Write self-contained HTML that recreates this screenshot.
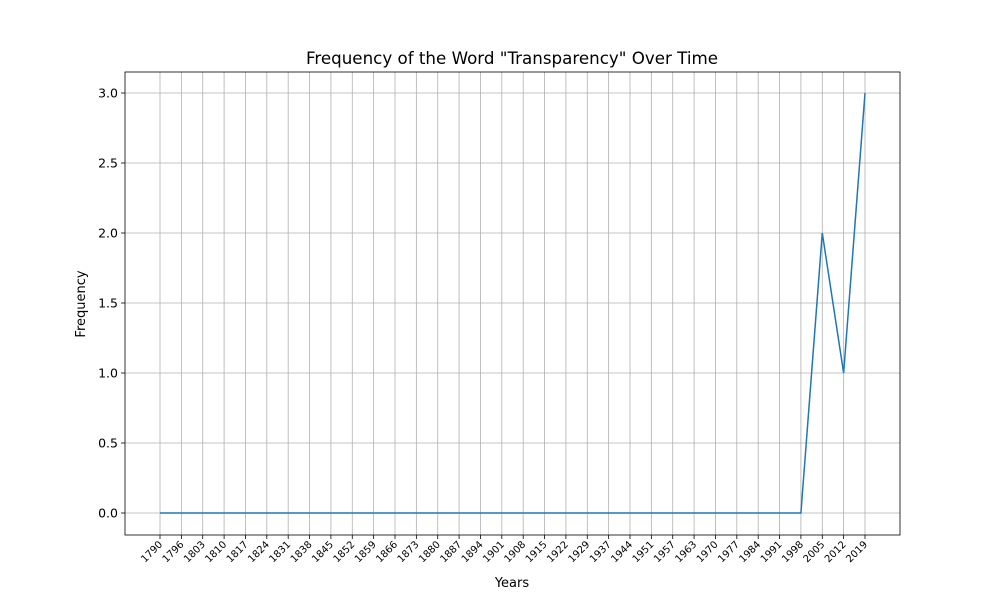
<!DOCTYPE html>
<html><head><meta charset="utf-8"><style>
body{margin:0;background:#fff;font-family:"DejaVu Sans","Liberation Sans",sans-serif;}
</style></head><body>
<svg id="chart" width="1000" height="600" xmlns="http://www.w3.org/2000/svg" font-family="DejaVu Sans, Liberation Sans, sans-serif"></svg>
<script>
const years=["1790","1796","1803","1810","1817","1824","1831","1838","1845","1852","1859","1866","1873","1880","1887","1894","1901","1908","1915","1922","1929","1937","1944","1951","1957","1963","1970","1977","1984","1991","1998","2005","2012","2019"];
const freq=[0,0,0,0,0,0,0,0,0,0,0,0,0,0,0,0,0,0,0,0,0,0,0,0,0,0,0,0,0,0,0,2,1,3];
const yTicks=[0,0.5,1,1.5,2,2.5,3];
const yTickLabels=["0.0","0.5","1.0","1.5","2.0","2.5","3.0"];
const svg=document.getElementById('chart');
const NS='http://www.w3.org/2000/svg';
const L=125,R=900,T=72,B=535;
const x0=160,x1=865;
function xs(i){return x0+i*(x1-x0)/(years.length-1);}
function ys(v){return 513-v*140;}
function mk(tag,attrs,parent){const e=document.createElementNS(NS,tag);for(const k in attrs)e.setAttribute(k,attrs[k]);(parent||svg).appendChild(e);return e;}
const t=mk('text',{x:512,y:64,'text-anchor':'middle','font-size':16.7,fill:'#000'});
t.textContent='Frequency of the Word "Transparency" Over Time';


years.forEach((yr,i)=>{
  const x=xs(i);
  const g=mk('line',{x1:x,x2:x,y1:T,y2:B,stroke:'#b0b0b0','stroke-width':0.8});
  
  
  mk('line',{x1:x,x2:x,y1:B,y2:B+4,stroke:'#000','stroke-width':0.8});
  const lb=mk('text',{x:x+3,y:B+10,'text-anchor':'end','font-size':10,fill:'#000',transform:`rotate(-45 ${x+3} ${B+10})`});
  lb.textContent=yr;
  
  
});
yTicks.forEach((v,i)=>{
  const y=ys(v);
  const g=mk('line',{x1:L,x2:R,y1:y,y2:y,stroke:'#b0b0b0','stroke-width':0.8});
  
  
  mk('line',{x1:L-4,x2:L,y1:y,y2:y,stroke:'#000','stroke-width':0.8});
  const lb=mk('text',{x:L-7,y:y+4.5,'text-anchor':'end','font-size':12.5,fill:'#000'});
  lb.textContent=yTickLabels[i];
  
  
});
const pts=freq.map((v,i)=>xs(i)+','+ys(v)).join(' ');
const line=mk('polyline',{points:pts,fill:'none',stroke:'#1f77b4','stroke-width':1.5});


const fr=mk('rect',{x:L,y:T,width:R-L,height:B-T,fill:'none',stroke:'#000','stroke-width':0.8});


const xl=mk('text',{x:512,y:587,'text-anchor':'middle','font-size':13,fill:'#000'});
xl.textContent='Years';


const yl=mk('text',{x:85,y:304,'text-anchor':'middle','font-size':13,fill:'#000',transform:'rotate(-90 85 304)'});
yl.textContent='Frequency';


</script>
</body></html>
